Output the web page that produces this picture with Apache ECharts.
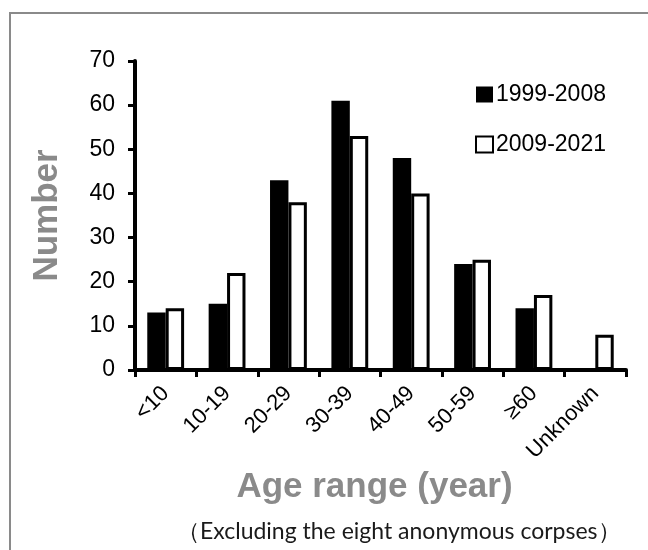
<!DOCTYPE html>
<html>
<head>
<meta charset="utf-8">
<script src="https://cdn.jsdelivr.net/npm/echarts@6/dist/echarts.min.js"></script>
<style>
  html, body { margin: 0; padding: 0; background: #fff; }
  #frame { position: absolute; left: 9px; top: 12px; width: 639px; height: 538px;
           border-top: 2px solid #8a8a8a; border-left: 2px solid #8a8a8a; }
  #chart { position: absolute; left: 0; top: 0; width: 648px; height: 550px; }
</style>
</head>
<body>
<div id="frame"></div>
<div id="chart"></div>
<script>
const categories = ['<10', '10-19', '20-29', '30-39', '40-49', '50-59', '\u226560', 'Unknown'];
const series1999 = [13, 15, 43, 61, 48, 24, 14, 0];
const series2009 = [14, 22, 38, 53, 40, 25, 17, 8];
const seriesNames = ['1999-2008', '2009-2021'];
const yTicks = { min: 0, max: 70, interval: 10 };

const chart = echarts.init(document.getElementById('chart'), null, { renderer: 'canvas' });
const FONT = '"Liberation Sans", Arial, sans-serif';

chart.setOption({
  backgroundColor: 'transparent',
  animation: false,
  textStyle: { fontFamily: FONT },
  grid: { left: 135, right: 22, top: 61, bottom: 180, containLabel: false },
  legend: {
    orient: 'vertical',
    left: 475,
    top: 83,
    padding: 0,
    itemWidth: 17,
    itemHeight: 16,
    itemGap: 27,
    icon: 'rect',
    textStyle: { fontFamily: FONT, fontSize: 23, color: '#000', padding: [0, 0, 0, -2] },
    data: seriesNames
  },
  xAxis: {
    type: 'category',
    data: categories,
    name: 'Age range (year)',
    nameLocation: 'middle',
    nameGap: 97,
    nameTextStyle: { fontFamily: FONT, fontSize: 35, fontWeight: 'bold', color: '#8a8a8a', padding: [0, 12, 0, 0] },
    axisLine: { lineStyle: { color: '#000', width: 4 } },
    axisTick: { show: true, interval: 0, length: 7, lineStyle: { color: '#000', width: 3 } },
    axisLabel: { interval: 0, rotate: 45, margin: 20, fontSize: 22, color: '#000', fontFamily: FONT }
  },
  yAxis: {
    type: 'value',
    min: yTicks.min,
    max: yTicks.max,
    interval: yTicks.interval,
    name: 'Number',
    nameLocation: 'middle',
    nameGap: 70,
    nameTextStyle: { fontFamily: FONT, fontSize: 35, fontWeight: 'bold', color: '#8a8a8a' },
    axisLine: { show: true, lineStyle: { color: '#000', width: 4 } },
    axisTick: { show: true, length: 7, lineStyle: { color: '#000', width: 3 } },
    axisLabel: { margin: 20, fontSize: 23, color: '#000', fontFamily: FONT },
    splitLine: { show: false }
  },
  series: [
    {
      name: seriesNames[0],
      type: 'bar',
      data: series1999,
      barGap: '0%',
      barCategoryGap: '40%',
      itemStyle: { color: '#000', borderColor: '#000', borderWidth: 0 }
    },
    {
      name: seriesNames[1],
      type: 'bar',
      data: series2009,
      barGap: '0%',
      barCategoryGap: '40%',
      itemStyle: { color: '#fff', borderColor: '#000', borderWidth: 3 }
    }
  ],
  graphic: [
    {
      type: 'text',
      left: 177,
      top: 520,
      style: {
        text: '\uff08Excluding the eight anonymous corpses\uff09',
        font: '23px Lato, "Noto Sans", sans-serif',
        fill: '#1a1a1a'
      }
    }
  ]
});
</script>
</body>
</html>
